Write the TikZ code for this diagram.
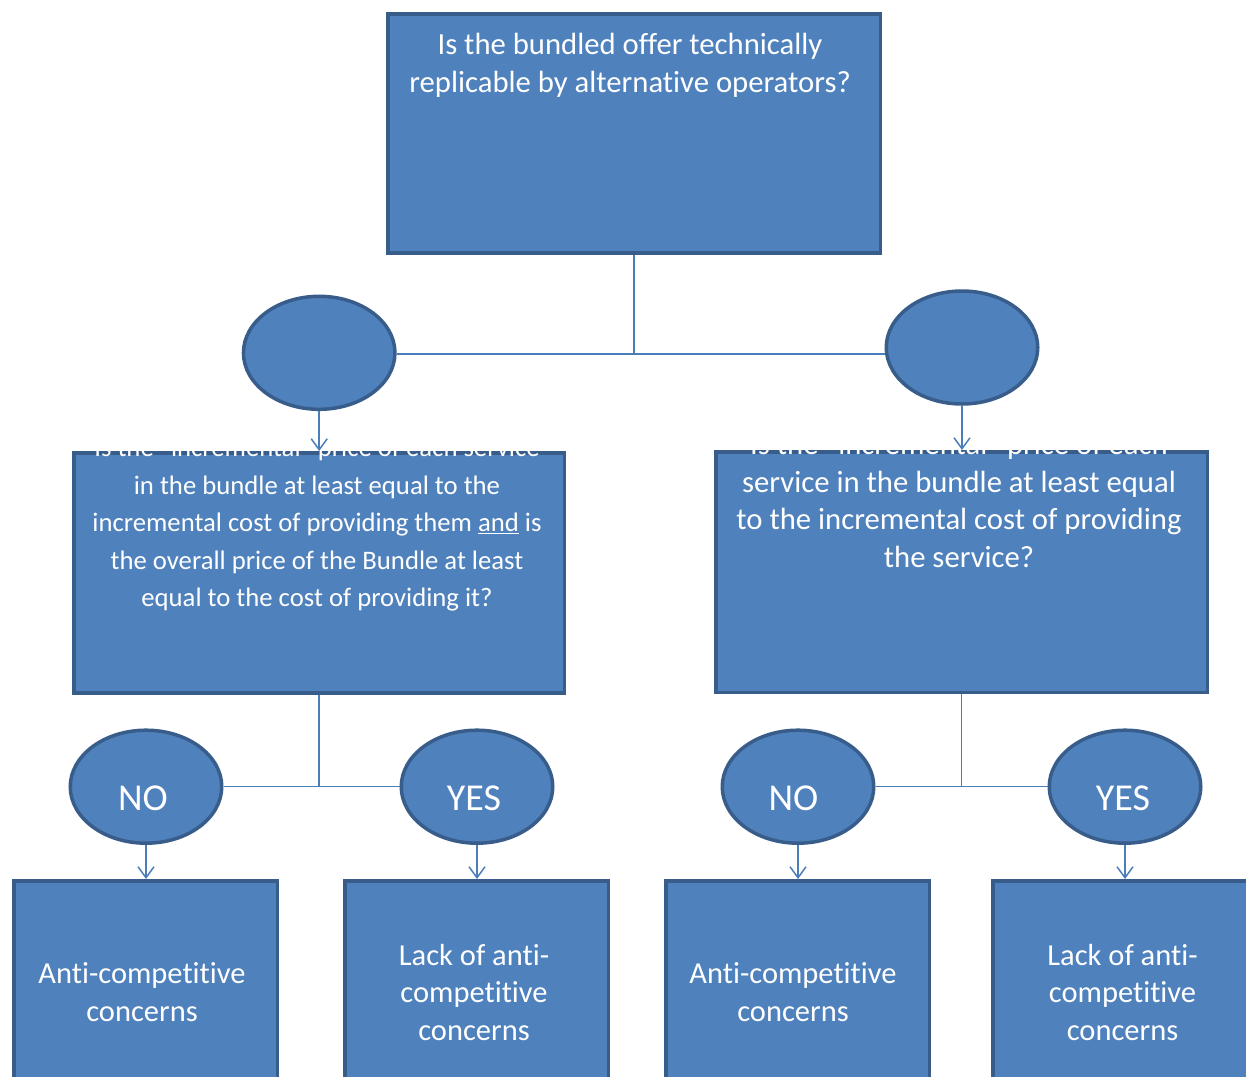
\documentclass[tikz,border=0pt]{standalone}
\usepackage{fontspec}
\setmainfont{Carlito}[Ligatures={NoCommon}]
\usetikzlibrary{arrows.meta,calc,shapes.geometric}
\definecolor{boxfill}{HTML}{4F81BD}
\definecolor{boxline}{HTML}{385D8A}
\definecolor{connline}{HTML}{4A7EBB}
\begin{document}
\begin{tikzpicture}[x=1pt,y=-1pt,
  box/.style={draw=boxline, fill=boxfill, line width=3.5pt, rectangle, inner sep=0pt},
  oval/.style={draw=boxline, fill=boxfill, line width=3.5pt, ellipse, inner sep=0pt,
               minimum width=151.5pt, minimum height=113pt},
  conn/.style={draw=connline, line width=1.5pt},
  arr/.style={conn, -{Straight Barb[length=11pt,width=16pt]}},
  qtext/.style={text=white, anchor=north, inner sep=0pt, align=center,
                font=\fontsize{30.7}{37.5}\selectfont},
  qsmall/.style={qtext, font=\fontsize{26.7}{37.5}\selectfont},
  ctext/.style={qtext, font=\fontsize{30.5}{37.5}\selectfont},
  yntext/.style={text=white, anchor=base, inner sep=0pt,
                 font=\fontsize{38}{45}\selectfont}]
\useasboundingbox (0,0) rectangle (1246,1076);
\clip (0,0) rectangle (1246,1076);

% boxes and ovals
\node[box, minimum width=492.5pt, minimum height=239pt] (q1) at (634,133.5) {};
\node[oval] (L) at (319.2,352.8) {};
\node[oval] (R) at (962,347.5) {};
\node[box, minimum width=490.5pt, minimum height=240pt] (m1) at (319,572.75) {};
\node[box, minimum width=491.5pt, minimum height=240.5pt] (m2) at (961.5,572) {};
\node[oval] (n1) at (146,786.7) {};
\node[oval] (y1) at (477,786.7) {};
\node[oval] (n2) at (798,786.7) {};
\node[oval] (y2) at (1125,786.7) {};
\node[box, minimum width=263.5pt, minimum height=260pt] (b1) at (145.5,1010.75) {};
\node[box, minimum width=263.5pt, minimum height=260pt] (b2) at (476.5,1010.75) {};
\node[box, minimum width=263.5pt, minimum height=260pt] (b3) at (797.5,1010.75) {};
\node[box, minimum width=263.5pt, minimum height=260pt] (b4) at (1124.5,1010.75) {};

% texts
\node[qtext] (t1) at (630,28.05) {\strut Is the bundled offer technically\\replicable by alternative operators?};
\node[qsmall] (t2) at (317,430.25) {\strut Is the “incremental” price of each service\\in the bundle at least equal to the\\incremental cost of providing them \underline{and} is\\the overall price of the Bundle at least\\equal to the cost of providing it?};
\node[qtext] (t3) at (959,428.25) {\strut Is the “incremental” price of each\\service in the bundle at least equal\\to the incremental cost of providing\\the service?};
\node[yntext] (tn1) at (143,810.7) {NO};
\node[yntext] (ty1) at (474,810.7) {YES};
\node[yntext] (tn2) at (793.5,810.7) {NO};
\node[yntext] (ty2) at (1123,810.7) {YES};
\node[ctext] (tb1) at (142,957.05) {\strut Anti-competitive\\concerns};
\node[ctext] (tb2) at (474,938.75) {\strut Lack of anti-\\competitive\\concerns};
\node[ctext] (tb3) at (793,957.05) {\strut Anti-competitive\\concerns};
\node[ctext] (tb4) at (1122.5,938.75) {\strut Lack of anti-\\competitive\\concerns};

% connectors
\draw[conn] (q1.south) -- (q1.south |- 0,354);
\draw[conn] (L.east |- 0,354) -- (R.west |- 0,354);
\draw[arr] (L.south) -- (L.south |- m1.north);
\draw[arr] (R.south) -- (R.south |- m2.north);

\draw[conn] (m1.south) -- (m1.south |- n1.east);
\draw[conn] (n1.east) -- (y1.west);
\draw[conn] (m2.south) -- (m2.south |- n2.east);
\draw[conn] (n2.east) -- (y2.west);

\draw[arr] (n1.south) -- (n1.south |- b1.north);
\draw[arr] (y1.south) -- (y1.south |- b2.north);
\draw[arr] (n2.south) -- (n2.south |- b3.north);
\draw[arr] (y2.south) -- (y2.south |- b4.north);
\end{tikzpicture}
\end{document}
